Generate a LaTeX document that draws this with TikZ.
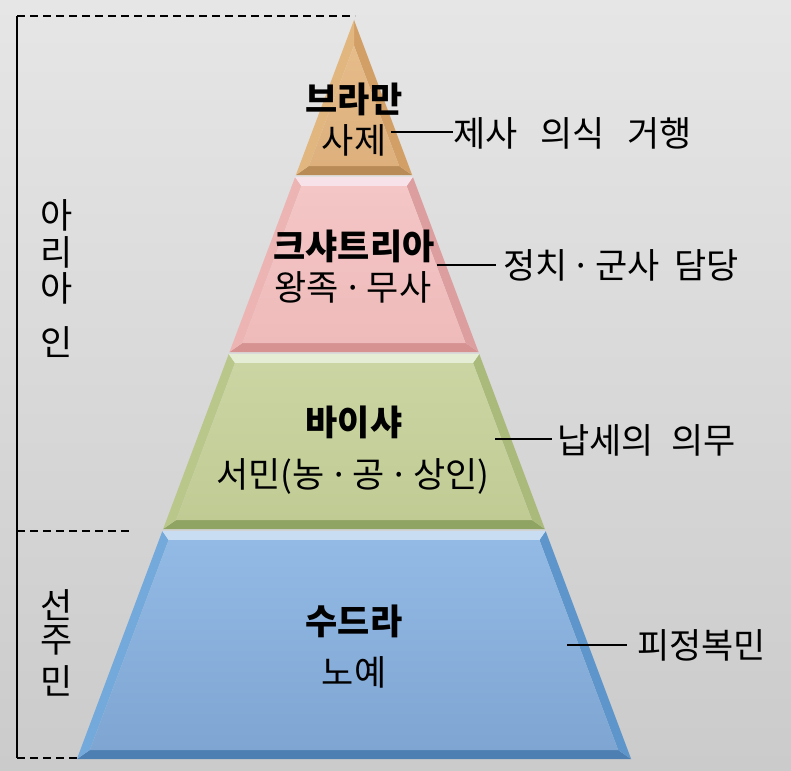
\documentclass[tikz,border=0pt]{standalone}
\usepackage{fontspec}
\newfontfamily\kr{Noto Sans CJK KR}
\usetikzlibrary{calc}
\definecolor{bgtop}{HTML}{E6E6E6}
\definecolor{bgbot}{HTML}{CBCBCB}
% brown
\definecolor{brL}{HTML}{E2B77F}\definecolor{brR}{HTML}{D2A067}
\definecolor{brT}{HTML}{E6BC8A}\definecolor{brB}{HTML}{B98C57}
\definecolor{brMa}{HTML}{E6BC8A}\definecolor{brMb}{HTML}{DDB07C}
% pink
\definecolor{pkL}{HTML}{EDB4B4}\definecolor{pkR}{HTML}{DC9E9E}
\definecolor{pkT}{HTML}{F6E2E8}\definecolor{pkB}{HTML}{D69191}
\definecolor{pkMa}{HTML}{F4C6C6}\definecolor{pkMb}{HTML}{EFBABA}
% green
\definecolor{gnL}{HTML}{B9C78B}\definecolor{gnR}{HTML}{AABA7B}
\definecolor{gnT}{HTML}{E5EDD4}\definecolor{gnB}{HTML}{8FA463}
\definecolor{gnMa}{HTML}{CAD5A3}\definecolor{gnMb}{HTML}{C0CB94}
% blue
\definecolor{blL}{HTML}{74AADB}\definecolor{blR}{HTML}{5E96CB}
\definecolor{blT}{HTML}{C9DDF2}\definecolor{blB}{HTML}{4E7FB3}
\definecolor{blMa}{HTML}{93B9E5}\definecolor{blMb}{HTML}{7FA5D2}
\newcommand\bev{9}
\newcommand\bevk{9.6}
% #1 top y, #2 bottom y, #3 inner top y, #4 colour prefix
\newcommand\tierdraw[4]{%
  \coordinate (TL) at ({354-0.375*(#1-20)},#1);
  \coordinate (TR) at ({354+0.375*(#1-20)},#1);
  \coordinate (BL) at ({354-0.375*(#2-20)},#2);
  \coordinate (BR) at ({354+0.375*(#2-20)},#2);
  \coordinate (iTL) at ({354-max(0.375*(#3-20)-\bevk,0)},#3);
  \coordinate (iTR) at ({354+max(0.375*(#3-20)-\bevk,0)},#3);
  \coordinate (iBL) at ({354-0.375*(#2-\bev-20)+\bevk},#2-\bev);
  \coordinate (iBR) at ({354+0.375*(#2-\bev-20)-\bevk},#2-\bev);
  \fill[#4B] (BL) -- (BR) -- (iBR) -- (iBL) -- cycle;
  \fill[#4R] (TR) -- (BR) -- (iBR) -- (iTR) -- cycle;
  \fill[#4L] (TL) -- (BL) -- (iBL) -- (iTL) -- cycle;
  \fill[#4T] (TL) -- (TR) -- (iTR) -- (iTL) -- cycle;
  \shade[top color=#4Ma,bottom color=#4Mb] (iTL) -- (iTR) -- (iBR) -- (iBL) -- cycle;
}
\newcommand\md{\hspace{0.12em}·\hspace{0.12em}}
\begin{document}
\begin{tikzpicture}[x=1pt,y=-1pt,
  big/.style={font=\kr\fontsize{35}{40}\selectfont\bfseries,inner sep=0pt},
  sub/.style={font=\kr\fontsize{35}{40}\selectfont,inner sep=0pt},
  desc/.style={font=\kr\fontsize{35}{40}\selectfont,inner sep=0pt,anchor=west},
  side/.style={font=\kr\fontsize{35}{40}\selectfont,inner sep=0pt},
  conn/.style={line width=1.4pt,black},
  brk/.style={line width=1.6pt,black},
  brkd/.style={line width=1.6pt,black,dash pattern=on 8pt off 5pt}]
\useasboundingbox (0,0) rectangle (791,770);
\shade[top color=bgtop,bottom color=bgbot] (0,0) rectangle (791,770);
% pyramid tiers
\tierdraw{20}{175}{46}{br}
\tierdraw{177}{352}{186}{pk}
\tierdraw{354}{529}{363}{gn}
\tierdraw{531}{759}{540}{bl}
% bracket
\coordinate (bt) at (17,16);
\coordinate (bte) at (355,16);
\coordinate (bm) at (17,531);
\coordinate (bme) at (133,531);
\coordinate (bb) at (17,758);
\coordinate (bbe) at (78,758);
\draw[brk] (bt) -- (bb);
\draw[brkd] (bt) -- (bte);
\draw[brkd] (bm) -- (bme);
\draw[brkd] (bb) -- (bbe);
% side labels
\node[side] (a1) at (57,215) {아};
\node[side] (a2) at (57,252) {리};
\node[side] (a3) at (57,288) {아};
\node[side] (a4) at (57,342) {인};
\node[side] (s1) at (57,605) {선};
\node[side] (s2) at (57,640) {주};
\node[side] (s3) at (57,681) {민};
% tier labels
\node[big] (n1) at (354,99) {브라만};
\node[sub] (n1s) at (354,140) {사제};
\node[big] (n2) at (354,246) {크샤트리아};
\node[sub] (n2s) at (353,287) {왕족\md 무사};
\node[big] (n3) at (354,422) {바이샤};
\node[sub] (n3s) at (353,476) {서민(농\md 공\md 상인)};
\node[big] (n4) at (354,621) {수드라};
\node[sub] (n4s) at (354,672) {노예};
% descriptions
\coordinate (c1) at (391,132);
\node[desc] (d1) at (453,133) {제사\hspace{0.65em}의식\hspace{0.65em}거행};
\draw[conn] (c1) -- (d1.west |- c1);
\coordinate (c2) at (437,265);
\node[desc] (d2) at (503,265) {정치\md 군사\hspace{0.4em}담당};
\draw[conn] (c2) -- ($(d2.west |- c2)+(-7,0)$);
\coordinate (c3) at (495,439);
\node[desc] (d3) at (557,440) {납세의\hspace{0.5em}의무};
\draw[conn] (c3) -- ($(d3.west |- c3)+(-5,0)$);
\coordinate (c4) at (567,645);
\node[desc] (d4) at (637,645) {피정복민};
\draw[conn] (c4) -- ($(d4.west |- c4)+(-10,0)$);
\end{tikzpicture}
\end{document}
